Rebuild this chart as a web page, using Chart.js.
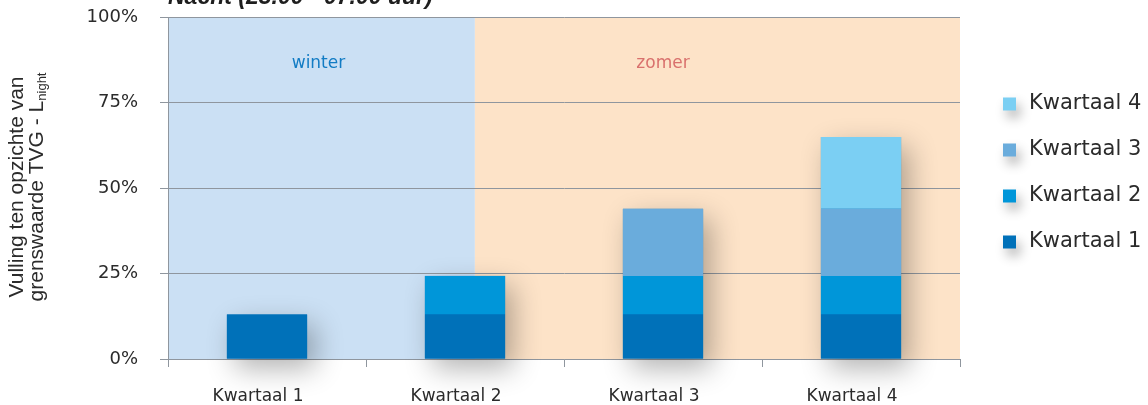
<!DOCTYPE html>
<html>
<head>
<meta charset="utf-8">
<script src="https://cdn.jsdelivr.net/npm/chart.js@4.4.1/dist/chart.umd.min.js"></script>
<style>
  html, body { margin: 0; padding: 0; background: #fff; }
  #wrap { position: relative; width: 1148px; height: 405px; }
</style>
</head>
<body>
<div id="wrap"><canvas id="chart"></canvas></div>
<script>
// ── Data ────────────────────────────────────────────────────────────────────
const categories = ['Kwartaal 1', 'Kwartaal 2', 'Kwartaal 3', 'Kwartaal 4'];
const seriesNames = ['Kwartaal 1', 'Kwartaal 2', 'Kwartaal 3', 'Kwartaal 4'];
const q1 = [13, 13, 13, 13];
const q2 = [0, 11.3, 11.3, 11.3];
const q3 = [0, 0, 19.6, 19.6];
const q4 = [0, 0, 0, 21];
const yTicks = [0, 25, 50, 75, 100];

const COLORS = ['#0071b9', '#0096d9', '#6aacdc', '#7bcff3'];
const GRID   = '#8f969e';
const TEXT   = '#2b2b2b';

// season bands, in category-index units
const SEASONS = [
  { label: 'winter', from: -0.5, to: 1.05, textAt: 0.26, fill: '#cbe0f4', color: '#127cc4' },
  { label: 'zomer',  from: 1.05, to: 3.5,  textAt: 2.0,  fill: '#fde3c8', color: '#d9716d' }
];

// ── Plugins ─────────────────────────────────────────────────────────────────
function catPx(chart, v) {
  const x = chart.scales.x;
  const step = x.getPixelForValue(1) - x.getPixelForValue(0);
  return x.getPixelForValue(0) + v * step;
}

const seasonBands = {
  id: 'seasonBands',
  beforeDraw(chart) {
    const { ctx, chartArea: a } = chart;
    ctx.save();
    SEASONS.forEach(s => {
      const x0 = Math.max(a.left, catPx(chart, s.from));
      const x1 = Math.min(a.right, catPx(chart, s.to));
      ctx.fillStyle = s.fill;
      ctx.fillRect(x0, a.top, x1 - x0, a.bottom - a.top);
    });
    ctx.font = '17px "DejaVu Sans"';
    ctx.textAlign = 'center';
    ctx.textBaseline = 'middle';
    SEASONS.forEach(s => {
      ctx.fillStyle = s.color;
      ctx.fillText(s.label, catPx(chart, s.textAt), chart.scales.y.getPixelForValue(86.5));
    });
    ctx.restore();
  }
};

const barShadows = {
  id: 'barShadows',
  beforeDatasetsDraw(chart) {
    const { ctx } = chart;
    ctx.save();
    ctx.shadowColor = 'rgba(0,0,0,0.3)';
    ctx.shadowBlur = 28;
    ctx.shadowOffsetX = 8;
    ctx.shadowOffsetY = 10;
    categories.forEach((c, i) => {
      let top = null, base = null, x = null, w = null;
      chart.data.datasets.forEach((ds, d) => {
        if (!ds.data[i]) return;
        const el = chart.getDatasetMeta(d).data[i];
        top = top === null ? el.y : Math.min(top, el.y);
        base = base === null ? el.base : Math.max(base, el.base);
        x = el.x; w = el.width;
      });
      if (top === null) return;
      ctx.fillStyle = COLORS[0];
      ctx.fillRect(x - w / 2, top, w, base - top);
    });
    ctx.restore();
  }
};

const extras = {
  id: 'extras',
  afterDraw(chart) {
    const { ctx } = chart;
    ctx.save();

    // title (cut at top edge like the source)
    ctx.fillStyle = '#1e1e1e';
    ctx.font = 'italic bold 23px "Liberation Sans"';
    ctx.textAlign = 'left';
    ctx.textBaseline = 'alphabetic';
    ctx.fillText('Nacht (23.00 - 07.00 uur)', chart.chartArea.left, 4);

    // y axis title, two rotated lines
    const cy = (chart.chartArea.top + chart.chartArea.bottom) / 2 - 1;
    ctx.translate(0, cy);
    ctx.rotate(-Math.PI / 2);
    ctx.fillStyle = TEXT;
    ctx.textBaseline = 'middle';
    ctx.textAlign = 'center';
    ctx.font = '21px "Liberation Sans"';
    ctx.fillText('Vulling ten opzichte van', 0, 17);
    const main = 'grenswaarde TVG - L';
    const sub = 'night';
    const wMain = ctx.measureText(main).width;
    ctx.font = '13px "Liberation Sans"';
    const wSub = ctx.measureText(sub).width;
    const start = -(wMain + wSub) / 2;
    ctx.textAlign = 'left';
    ctx.font = '21px "Liberation Sans"';
    ctx.fillText(main, start, 37);
    ctx.font = '13px "Liberation Sans"';
    ctx.fillText(sub, start + wMain, 42);
    ctx.restore();

    // legend, reversed, with soft shadows on the swatches
    ctx.save();
    const lx = 1003, ly = 104, gap = 46, box = 13;
    ctx.font = '21px "DejaVu Sans"';
    ctx.textBaseline = 'middle';
    ctx.textAlign = 'left';
    const order = chart.data.datasets.map((d, i) => i).reverse();
    order.forEach((d, k) => {
      const y = ly + k * gap;
      ctx.save();
      ctx.shadowColor = 'rgba(0,0,0,0.3)';
      ctx.shadowBlur = 12;
      ctx.shadowOffsetX = 4;
      ctx.shadowOffsetY = 7;
      ctx.fillStyle = chart.data.datasets[d].backgroundColor;
      ctx.fillRect(lx, y - box / 2, box, box);
      ctx.restore();
      ctx.fillStyle = TEXT;
      ctx.fillText(chart.data.datasets[d].label, lx + 26, y);
    });
    ctx.restore();
  }
};

// ── Chart ───────────────────────────────────────────────────────────────────
const seriesData = [q1, q2, q3, q4];

new Chart(document.getElementById('chart'), {
  type: 'bar',
  data: {
    labels: categories,
    datasets: seriesData.map((d, i) => ({
      label: seriesNames[i],
      data: d,
      backgroundColor: COLORS[i],
      borderWidth: 0,
      barPercentage: 0.405,
      categoryPercentage: 1
    }))
  },
  options: {
    responsive: true,
    maintainAspectRatio: false,
    animation: false,
    layout: { padding: { left: 0, top: 17, right: 188, bottom: 0 } },
    plugins: {
      legend: { display: false },
      tooltip: { enabled: false }
    },
    scales: {
      x: {
        stacked: true,
        afterFit: s => { s.height = 46; },
        grid: { drawOnChartArea: false, color: GRID, tickLength: 8, offset: true },
        border: { color: GRID },
        ticks: { color: TEXT, padding: 19, labelOffset: -9, font: { family: 'DejaVu Sans', size: 17 } }
      },
      y: {
        stacked: true,
        min: 0, max: 100,
        afterFit: s => { s.width = 168; s.paddingTop = 0; s.paddingBottom = 0; },
        afterBuildTicks: s => { s.ticks = yTicks.map(v => ({ value: v })); },
        grid: { color: GRID, tickLength: 8 },
        border: { color: GRID },
        ticks: {
          color: TEXT, padding: 22,
          font: { family: 'DejaVu Sans', size: 18 },
          callback: v => v + '%'
        }
      }
    }
  },
  plugins: [seasonBands, barShadows, extras]
});
</script>
</body>
</html>
